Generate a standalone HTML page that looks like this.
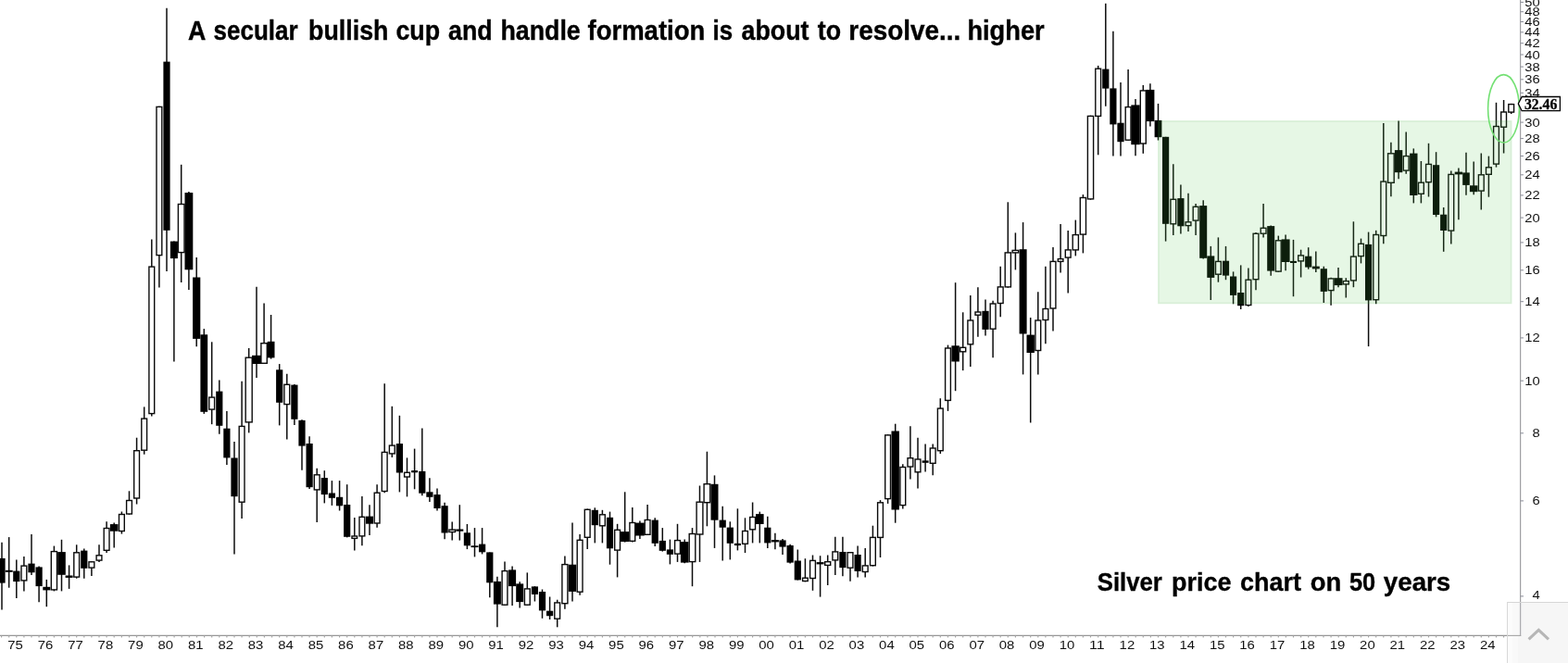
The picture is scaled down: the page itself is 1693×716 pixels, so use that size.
<!DOCTYPE html>
<html lang="en"><head><meta charset="utf-8"><title>Silver price chart on 50 years</title>
<style>
html,body{margin:0;padding:0;background:#fff;}
body{width:1693px;height:716px;overflow:hidden;position:relative;font-family:"Liberation Sans",Arial,sans-serif;}
svg{position:absolute;left:0;top:0;display:block}
.c line{stroke:#0c0c0c;stroke-width:1.5}
.c rect.f{fill:#000}
.c rect.h{fill:#fff;stroke:#0a0a0a;stroke-width:1.4}
.ax text{font-family:"Liberation Sans",Arial,sans-serif;font-size:13.4px;fill:#111}
.t{font-family:"Liberation Sans",Arial,sans-serif;font-weight:bold;font-size:27.4px;fill:#000;stroke:#000;stroke-width:0.35px}
</style></head><body>
<svg width="1693" height="716" viewBox="0 0 1693 716">
<rect x="0" y="0" width="1693" height="716" fill="#fff"/>

<g class="c">
<line x1="2.0" y1="585.8" x2="2.0" y2="658.5"/>
<line x1="9.7" y1="580.1" x2="9.7" y2="634.7"/>
<line x1="17.8" y1="604.6" x2="17.8" y2="645.9"/>
<line x1="25.9" y1="600.9" x2="25.9" y2="638.4"/>
<line x1="34.0" y1="577.1" x2="34.0" y2="620.9"/>
<line x1="42.1" y1="611.6" x2="42.1" y2="650.2"/>
<line x1="50.3" y1="625.9" x2="50.3" y2="655.2"/>
<line x1="58.4" y1="589.6" x2="58.4" y2="638.4"/>
<line x1="66.5" y1="582.8" x2="66.5" y2="638.4"/>
<line x1="74.6" y1="610.4" x2="74.6" y2="635.9"/>
<line x1="82.7" y1="588.3" x2="82.7" y2="624.7"/>
<line x1="90.8" y1="592.6" x2="90.8" y2="624.7"/>
<line x1="98.9" y1="605.9" x2="98.9" y2="622.1"/>
<line x1="107.0" y1="588.3" x2="107.0" y2="607.1"/>
<line x1="115.1" y1="563.3" x2="115.1" y2="597.1"/>
<line x1="123.2" y1="564.5" x2="123.2" y2="591.6"/>
<line x1="131.4" y1="552.5" x2="131.4" y2="576.6"/>
<line x1="139.5" y1="530.3" x2="139.5" y2="555.8"/>
<line x1="147.6" y1="472.7" x2="147.6" y2="544.5"/>
<line x1="155.7" y1="439.4" x2="155.7" y2="490.7"/>
<line x1="163.8" y1="258.6" x2="163.8" y2="449.4"/>
<line x1="171.9" y1="114.7" x2="171.9" y2="310.5"/>
<line x1="180.0" y1="8.8" x2="180.0" y2="292.9"/>
<line x1="187.9" y1="260.6" x2="187.9" y2="390.6"/>
<line x1="195.7" y1="177.8" x2="195.7" y2="305.0"/>
<line x1="203.9" y1="207.0" x2="203.9" y2="313.0"/>
<line x1="212.2" y1="277.9" x2="212.2" y2="374.3"/>
<line x1="220.3" y1="355.1" x2="220.3" y2="446.9"/>
<line x1="228.7" y1="369.3" x2="228.7" y2="458.2"/>
<line x1="236.8" y1="410.6" x2="236.8" y2="468.7"/>
<line x1="244.9" y1="443.9" x2="244.9" y2="502.0"/>
<line x1="253.0" y1="477.0" x2="253.0" y2="598.4"/>
<line x1="261.1" y1="411.8" x2="261.1" y2="560.0"/>
<line x1="268.7" y1="376.0" x2="268.7" y2="467.4"/>
<line x1="277.0" y1="309.7" x2="277.0" y2="408.1"/>
<line x1="285.1" y1="327.5" x2="285.1" y2="393.1"/>
<line x1="292.6" y1="340.0" x2="292.6" y2="387.6"/>
<line x1="301.7" y1="393.1" x2="301.7" y2="459.4"/>
<line x1="309.8" y1="403.8" x2="309.8" y2="474.5"/>
<line x1="317.9" y1="415.1" x2="317.9" y2="458.9"/>
<line x1="326.0" y1="453.2" x2="326.0" y2="507.8"/>
<line x1="334.1" y1="471.2" x2="334.1" y2="527.9"/>
<line x1="342.2" y1="505.7" x2="342.2" y2="564.1"/>
<line x1="350.3" y1="508.2" x2="350.3" y2="543.4"/>
<line x1="358.4" y1="519.1" x2="358.4" y2="545.9"/>
<line x1="366.6" y1="519.1" x2="366.6" y2="551.5"/>
<line x1="374.7" y1="523.2" x2="374.7" y2="580.4"/>
<line x1="382.8" y1="559.1" x2="382.8" y2="594.6"/>
<line x1="390.9" y1="536.1" x2="390.9" y2="589.2"/>
<line x1="399.0" y1="545.2" x2="399.0" y2="577.9"/>
<line x1="407.1" y1="523.2" x2="407.1" y2="569.7"/>
<line x1="415.2" y1="414.3" x2="415.2" y2="532.3"/>
<line x1="423.3" y1="438.8" x2="423.3" y2="493.9"/>
<line x1="431.4" y1="448.8" x2="431.4" y2="531.4"/>
<line x1="439.5" y1="494.4" x2="439.5" y2="536.4"/>
<line x1="447.6" y1="484.6" x2="447.6" y2="528.3"/>
<line x1="455.8" y1="462.6" x2="455.8" y2="535.2"/>
<line x1="463.9" y1="516.3" x2="463.9" y2="542.1"/>
<line x1="472.0" y1="527.4" x2="472.0" y2="551.5"/>
<line x1="480.1" y1="542.7" x2="480.1" y2="582.3"/>
<line x1="488.2" y1="563.5" x2="488.2" y2="583.6"/>
<line x1="496.3" y1="545.2" x2="496.3" y2="583.6"/>
<line x1="504.4" y1="566.0" x2="504.4" y2="593.1"/>
<line x1="512.5" y1="570.1" x2="512.5" y2="601.4"/>
<line x1="520.6" y1="570.1" x2="520.6" y2="598.4"/>
<line x1="528.8" y1="596.4" x2="528.8" y2="645.2"/>
<line x1="536.9" y1="622.7" x2="536.9" y2="677.3"/>
<line x1="545.0" y1="606.4" x2="545.0" y2="654.0"/>
<line x1="553.1" y1="611.4" x2="553.1" y2="654.0"/>
<line x1="561.2" y1="628.2" x2="561.2" y2="656.5"/>
<line x1="569.3" y1="618.4" x2="569.3" y2="654.0"/>
<line x1="577.4" y1="633.2" x2="577.4" y2="649.5"/>
<line x1="585.5" y1="636.5" x2="585.5" y2="667.8"/>
<line x1="593.6" y1="644.5" x2="593.6" y2="669.0"/>
<line x1="601.7" y1="647.7" x2="601.7" y2="677.3"/>
<line x1="609.9" y1="600.6" x2="609.9" y2="657.7"/>
<line x1="618.0" y1="564.6" x2="618.0" y2="649.5"/>
<line x1="626.1" y1="577.1" x2="626.1" y2="642.7"/>
<line x1="634.2" y1="549.6" x2="634.2" y2="593.1"/>
<line x1="642.3" y1="548.3" x2="642.3" y2="586.4"/>
<line x1="650.4" y1="550.8" x2="650.4" y2="586.4"/>
<line x1="658.5" y1="552.6" x2="658.5" y2="609.7"/>
<line x1="666.6" y1="565.8" x2="666.6" y2="623.4"/>
<line x1="674.7" y1="531.3" x2="674.7" y2="585.6"/>
<line x1="682.8" y1="548.0" x2="682.8" y2="585.6"/>
<line x1="690.9" y1="562.6" x2="690.9" y2="582.1"/>
<line x1="699.1" y1="545.0" x2="699.1" y2="578.1"/>
<line x1="707.2" y1="559.3" x2="707.2" y2="590.1"/>
<line x1="715.3" y1="570.1" x2="715.3" y2="595.6"/>
<line x1="723.4" y1="582.6" x2="723.4" y2="609.4"/>
<line x1="731.5" y1="565.8" x2="731.5" y2="606.9"/>
<line x1="739.2" y1="582.6" x2="739.2" y2="608.2"/>
<line x1="747.5" y1="570.1" x2="747.5" y2="633.2"/>
<line x1="755.5" y1="524.5" x2="755.5" y2="606.9"/>
<line x1="763.4" y1="487.7" x2="763.4" y2="568.3"/>
<line x1="771.5" y1="513.4" x2="771.5" y2="591.9"/>
<line x1="780.2" y1="546.8" x2="780.2" y2="605.6"/>
<line x1="788.3" y1="563.3" x2="788.3" y2="604.4"/>
<line x1="796.4" y1="549.3" x2="796.4" y2="594.4"/>
<line x1="804.5" y1="559.3" x2="804.5" y2="597.1"/>
<line x1="812.6" y1="542.5" x2="812.6" y2="586.4"/>
<line x1="820.3" y1="552.6" x2="820.3" y2="586.4"/>
<line x1="828.8" y1="557.7" x2="828.8" y2="592.0"/>
<line x1="836.9" y1="575.7" x2="836.9" y2="593.2"/>
<line x1="845.0" y1="581.9" x2="845.0" y2="599.0"/>
<line x1="853.1" y1="587.7" x2="853.1" y2="608.5"/>
<line x1="861.3" y1="593.5" x2="861.3" y2="626.5"/>
<line x1="869.4" y1="603.2" x2="869.4" y2="628.3"/>
<line x1="877.5" y1="599.5" x2="877.5" y2="637.8"/>
<line x1="885.6" y1="600.2" x2="885.6" y2="644.6"/>
<line x1="893.7" y1="599.5" x2="893.7" y2="632.0"/>
<line x1="901.8" y1="579.7" x2="901.8" y2="621.0"/>
<line x1="909.9" y1="579.7" x2="909.9" y2="622.3"/>
<line x1="918.0" y1="596.0" x2="918.0" y2="627.8"/>
<line x1="926.1" y1="589.5" x2="926.1" y2="623.5"/>
<line x1="934.2" y1="592.0" x2="934.2" y2="623.5"/>
<line x1="942.4" y1="567.7" x2="942.4" y2="611.5"/>
<line x1="950.5" y1="540.1" x2="950.5" y2="602.0"/>
<line x1="958.6" y1="469.2" x2="958.6" y2="543.9"/>
<line x1="966.7" y1="457.7" x2="966.7" y2="564.7"/>
<line x1="974.8" y1="501.3" x2="974.8" y2="549.6"/>
<line x1="982.9" y1="460.2" x2="982.9" y2="517.6"/>
<line x1="991.0" y1="472.7" x2="991.0" y2="527.6"/>
<line x1="999.1" y1="479.5" x2="999.1" y2="509.6"/>
<line x1="1007.2" y1="479.5" x2="1007.2" y2="513.3"/>
<line x1="1015.3" y1="430.2" x2="1015.3" y2="490.0"/>
<line x1="1023.5" y1="372.6" x2="1023.5" y2="443.9"/>
<line x1="1031.6" y1="305.2" x2="1031.6" y2="422.2"/>
<line x1="1039.7" y1="337.3" x2="1039.7" y2="400.1"/>
<line x1="1047.8" y1="319.0" x2="1047.8" y2="395.9"/>
<line x1="1055.9" y1="310.2" x2="1055.9" y2="363.8"/>
<line x1="1064.0" y1="323.5" x2="1064.0" y2="362.6"/>
<line x1="1072.1" y1="324.8" x2="1072.1" y2="386.3"/>
<line x1="1080.2" y1="287.7" x2="1080.2" y2="342.3"/>
<line x1="1088.3" y1="218.3" x2="1088.3" y2="310.7"/>
<line x1="1096.4" y1="251.4" x2="1096.4" y2="291.4"/>
<line x1="1104.6" y1="240.1" x2="1104.6" y2="404.4"/>
<line x1="1112.7" y1="343.0" x2="1112.7" y2="456.5"/>
<line x1="1120.8" y1="315.2" x2="1120.8" y2="404.4"/>
<line x1="1128.9" y1="287.7" x2="1128.9" y2="371.3"/>
<line x1="1137.0" y1="266.9" x2="1137.0" y2="357.5"/>
<line x1="1145.1" y1="241.9" x2="1145.1" y2="294.5"/>
<line x1="1153.2" y1="248.9" x2="1153.2" y2="316.5"/>
<line x1="1161.3" y1="237.6" x2="1161.3" y2="276.4"/>
<line x1="1169.4" y1="210.1" x2="1169.4" y2="273.4"/>
<line x1="1177.5" y1="124.7" x2="1177.5" y2="215.7"/>
<line x1="1185.7" y1="70.9" x2="1185.7" y2="167.3"/>
<line x1="1193.8" y1="3.8" x2="1193.8" y2="114.7"/>
<line x1="1201.9" y1="33.8" x2="1201.9" y2="168.5"/>
<line x1="1210.0" y1="88.9" x2="1210.0" y2="168.5"/>
<line x1="1218.1" y1="75.1" x2="1218.1" y2="152.0"/>
<line x1="1226.0" y1="106.9" x2="1226.0" y2="168.3"/>
<line x1="1234.3" y1="91.9" x2="1234.3" y2="165.8"/>
<line x1="1241.9" y1="90.2" x2="1241.9" y2="136.5"/>
<line x1="1250.5" y1="111.9" x2="1250.5" y2="151.5"/>
<line x1="1258.6" y1="147.8" x2="1258.6" y2="260.6"/>
<line x1="1266.8" y1="177.3" x2="1266.8" y2="253.9"/>
<line x1="1274.9" y1="199.5" x2="1274.9" y2="252.6"/>
<line x1="1283.0" y1="208.8" x2="1283.0" y2="250.1"/>
<line x1="1291.1" y1="220.1" x2="1291.1" y2="253.9"/>
<line x1="1299.2" y1="216.3" x2="1299.2" y2="279.4"/>
<line x1="1307.3" y1="265.9" x2="1307.3" y2="324.0"/>
<line x1="1315.4" y1="256.4" x2="1315.4" y2="304.7"/>
<line x1="1323.5" y1="265.9" x2="1323.5" y2="302.2"/>
<line x1="1331.6" y1="293.4" x2="1331.6" y2="328.3"/>
<line x1="1339.7" y1="286.4" x2="1339.7" y2="334.0"/>
<line x1="1347.9" y1="289.4" x2="1347.9" y2="331.0"/>
<line x1="1356.0" y1="250.9" x2="1356.0" y2="313.2"/>
<line x1="1364.1" y1="220.1" x2="1364.1" y2="256.4"/>
<line x1="1372.2" y1="243.4" x2="1372.2" y2="297.7"/>
<line x1="1380.3" y1="254.6" x2="1380.3" y2="293.9"/>
<line x1="1388.1" y1="253.4" x2="1388.1" y2="292.2"/>
<line x1="1396.5" y1="258.9" x2="1396.5" y2="320.2"/>
<line x1="1404.6" y1="269.7" x2="1404.6" y2="299.5"/>
<line x1="1412.7" y1="267.2" x2="1412.7" y2="290.7"/>
<line x1="1420.8" y1="271.4" x2="1420.8" y2="293.9"/>
<line x1="1429.3" y1="287.7" x2="1429.3" y2="327.0"/>
<line x1="1437.1" y1="299.7" x2="1437.1" y2="329.7"/>
<line x1="1445.0" y1="288.9" x2="1445.0" y2="310.2"/>
<line x1="1453.3" y1="300.2" x2="1453.3" y2="321.5"/>
<line x1="1461.4" y1="239.3" x2="1461.4" y2="310.2"/>
<line x1="1469.5" y1="257.6" x2="1469.5" y2="284.4"/>
<line x1="1477.6" y1="250.6" x2="1477.6" y2="374.1"/>
<line x1="1485.7" y1="248.8" x2="1485.7" y2="328.2"/>
<line x1="1493.8" y1="133.1" x2="1493.8" y2="263.3"/>
<line x1="1501.9" y1="153.8" x2="1501.9" y2="212.2"/>
<line x1="1510.1" y1="130.6" x2="1510.1" y2="193.2"/>
<line x1="1518.2" y1="142.6" x2="1518.2" y2="187.7"/>
<line x1="1526.3" y1="160.4" x2="1526.3" y2="219.4"/>
<line x1="1534.4" y1="174.0" x2="1534.4" y2="219.4"/>
<line x1="1542.5" y1="154.8" x2="1542.5" y2="212.5"/>
<line x1="1550.6" y1="164.2" x2="1550.6" y2="234.3"/>
<line x1="1558.7" y1="224.0" x2="1558.7" y2="271.8"/>
<line x1="1566.8" y1="184.4" x2="1566.8" y2="263.6"/>
<line x1="1574.9" y1="181.5" x2="1574.9" y2="237.2"/>
<line x1="1583.0" y1="164.8" x2="1583.0" y2="210.8"/>
<line x1="1591.2" y1="174.5" x2="1591.2" y2="210.2"/>
<line x1="1599.3" y1="165.5" x2="1599.3" y2="226.5"/>
<line x1="1607.4" y1="168.6" x2="1607.4" y2="212.7"/>
<line x1="1615.5" y1="110.8" x2="1615.5" y2="180.6"/>
<line x1="1623.6" y1="108.0" x2="1623.6" y2="165.5"/>
<line x1="1631.7" y1="111.9" x2="1631.7" y2="123.0"/>
<rect class="f" x="-1.6" y="602.9" width="7.2" height="26.7"/>
<rect class="f" x="5.7" y="615.8" width="8.0" height="2.0"/>
<rect class="f" x="14.2" y="616.6" width="7.2" height="11.5"/>
<rect class="h" x="23.0" y="611.1" width="5.8" height="15.8"/>
<rect class="f" x="30.4" y="608.6" width="7.2" height="9.7"/>
<rect class="f" x="38.5" y="612.4" width="7.2" height="20.7"/>
<rect class="f" x="46.3" y="633.8" width="8.0" height="3.6"/>
<rect class="h" x="55.3" y="595.6" width="6.2" height="41.3"/>
<rect class="f" x="62.2" y="596.1" width="8.6" height="24.7"/>
<rect class="f" x="70.6" y="621.5" width="8.0" height="2.4"/>
<rect class="h" x="79.8" y="596.8" width="5.8" height="26.3"/>
<rect class="f" x="87.2" y="594.6" width="7.2" height="19.2"/>
<rect class="h" x="96.0" y="606.8" width="5.8" height="6.3"/>
<rect class="h" x="104.1" y="599.8" width="5.8" height="5.3"/>
<rect class="h" x="112.2" y="570.5" width="5.8" height="23.8"/>
<rect class="f" x="118.9" y="566.1" width="8.6" height="7.6"/>
<rect class="h" x="128.5" y="555.5" width="5.8" height="18.0"/>
<rect class="h" x="136.6" y="540.5" width="5.8" height="14.5"/>
<rect class="h" x="144.7" y="486.7" width="5.8" height="51.3"/>
<rect class="h" x="152.8" y="452.1" width="5.8" height="34.1"/>
<rect class="h" x="160.9" y="288.1" width="5.8" height="158.5"/>
<rect class="h" x="169.0" y="115.4" width="5.8" height="160.2"/>
<rect class="f" x="176.4" y="66.6" width="7.2" height="182.2"/>
<rect class="f" x="183.9" y="260.6" width="8.0" height="18.5"/>
<rect class="h" x="192.4" y="220.5" width="6.6" height="52.1"/>
<rect class="f" x="199.5" y="208.1" width="8.8" height="83.2"/>
<rect class="f" x="208.1" y="299.5" width="8.2" height="66.4"/>
<rect class="f" x="216.4" y="361.3" width="7.8" height="83.5"/>
<rect class="h" x="225.8" y="429.1" width="5.8" height="13.0"/>
<rect class="f" x="233.2" y="422.6" width="7.2" height="37.2"/>
<rect class="f" x="241.3" y="462.7" width="7.2" height="31.7"/>
<rect class="f" x="249.4" y="494.5" width="7.2" height="41.7"/>
<rect class="h" x="258.2" y="460.4" width="5.8" height="81.8"/>
<rect class="h" x="265.2" y="386.2" width="7.0" height="69.7"/>
<rect class="f" x="272.0" y="383.8" width="10.0" height="9.2"/>
<rect class="h" x="281.9" y="370.7" width="6.4" height="21.6"/>
<rect class="f" x="288.7" y="368.8" width="7.8" height="17.6"/>
<rect class="f" x="298.1" y="399.3" width="7.2" height="35.5"/>
<rect class="h" x="306.9" y="415.3" width="5.8" height="21.3"/>
<rect class="f" x="314.3" y="415.6" width="7.2" height="37.2"/>
<rect class="f" x="322.4" y="453.9" width="7.2" height="27.7"/>
<rect class="f" x="330.5" y="479.0" width="7.2" height="47.2"/>
<rect class="h" x="339.3" y="512.8" width="5.8" height="16.1"/>
<rect class="f" x="346.7" y="516.1" width="7.2" height="18.0"/>
<rect class="f" x="354.8" y="532.5" width="7.2" height="5.3"/>
<rect class="f" x="363.0" y="536.8" width="7.2" height="9.5"/>
<rect class="f" x="371.1" y="545.0" width="7.2" height="34.8"/>
<rect class="h" x="380.0" y="579.0" width="5.6" height="2.4"/>
<rect class="h" x="388.0" y="558.3" width="5.8" height="20.6"/>
<rect class="f" x="395.0" y="557.6" width="8.0" height="8.1"/>
<rect class="h" x="404.2" y="532.2" width="5.8" height="32.8"/>
<rect class="h" x="412.3" y="488.4" width="5.8" height="42.1"/>
<rect class="h" x="420.4" y="481.1" width="5.8" height="8.8"/>
<rect class="f" x="427.8" y="479.1" width="7.2" height="31.4"/>
<rect class="h" x="436.6" y="510.3" width="5.8" height="4.7"/>
<rect class="f" x="444.1" y="508.1" width="7.0" height="2.2"/>
<rect class="f" x="452.2" y="508.9" width="7.2" height="23.8"/>
<rect class="f" x="460.3" y="531.3" width="7.2" height="5.5"/>
<rect class="f" x="468.4" y="534.1" width="7.2" height="14.9"/>
<rect class="f" x="476.5" y="546.2" width="7.2" height="29.3"/>
<rect class="h" x="484.9" y="572.1" width="6.6" height="2.4"/>
<rect class="f" x="492.3" y="571.5" width="8.0" height="2.2"/>
<rect class="f" x="500.8" y="575.3" width="7.2" height="14.0"/>
<rect class="f" x="508.5" y="589.3" width="8.0" height="1.8"/>
<rect class="f" x="517.0" y="587.6" width="7.2" height="8.7"/>
<rect class="f" x="525.2" y="596.4" width="7.2" height="32.9"/>
<rect class="f" x="532.9" y="627.9" width="8.0" height="24.7"/>
<rect class="h" x="542.1" y="616.6" width="5.8" height="36.6"/>
<rect class="f" x="549.1" y="615.4" width="8.0" height="17.7"/>
<rect class="f" x="557.2" y="630.4" width="8.0" height="19.7"/>
<rect class="h" x="566.4" y="635.9" width="5.8" height="17.3"/>
<rect class="f" x="573.8" y="633.4" width="7.2" height="8.5"/>
<rect class="f" x="581.9" y="639.0" width="7.2" height="20.4"/>
<rect class="f" x="590.0" y="659.7" width="7.2" height="5.5"/>
<rect class="h" x="598.8" y="650.9" width="5.8" height="17.3"/>
<rect class="h" x="606.9" y="609.6" width="6.0" height="42.1"/>
<rect class="f" x="613.8" y="609.7" width="8.4" height="29.2"/>
<rect class="h" x="623.2" y="583.3" width="5.8" height="55.9"/>
<rect class="h" x="631.3" y="550.3" width="5.8" height="30.0"/>
<rect class="f" x="638.7" y="550.8" width="7.2" height="16.4"/>
<rect class="h" x="647.5" y="555.8" width="5.8" height="12.0"/>
<rect class="f" x="654.9" y="558.8" width="7.2" height="33.5"/>
<rect class="h" x="663.7" y="572.3" width="5.8" height="21.8"/>
<rect class="f" x="670.0" y="574.1" width="9.4" height="10.9"/>
<rect class="h" x="679.9" y="564.5" width="5.8" height="19.8"/>
<rect class="f" x="686.0" y="564.6" width="9.8" height="13.9"/>
<rect class="h" x="696.2" y="561.5" width="5.8" height="15.8"/>
<rect class="f" x="703.6" y="561.6" width="7.2" height="25.2"/>
<rect class="f" x="711.7" y="583.9" width="7.2" height="10.9"/>
<rect class="f" x="719.8" y="593.4" width="7.2" height="5.4"/>
<rect class="h" x="728.6" y="583.6" width="5.8" height="14.5"/>
<rect class="f" x="734.9" y="585.1" width="8.6" height="22.5"/>
<rect class="h" x="744.2" y="576.5" width="6.6" height="30.1"/>
<rect class="h" x="752.1" y="542.2" width="6.8" height="34.8"/>
<rect class="h" x="760.1" y="522.7" width="6.6" height="20.0"/>
<rect class="f" x="767.5" y="522.8" width="8.0" height="38.9"/>
<rect class="f" x="776.6" y="561.6" width="7.2" height="8.1"/>
<rect class="f" x="784.7" y="569.6" width="7.2" height="17.2"/>
<rect class="f" x="792.9" y="586.8" width="7.0" height="2.3"/>
<rect class="h" x="801.6" y="573.5" width="5.8" height="13.8"/>
<rect class="h" x="809.7" y="558.5" width="5.8" height="13.3"/>
<rect class="f" x="816.0" y="555.1" width="8.6" height="10.9"/>
<rect class="f" x="825.2" y="569.7" width="7.2" height="16.7"/>
<rect class="f" x="832.9" y="583.1" width="8.0" height="2.3"/>
<rect class="f" x="841.4" y="583.4" width="7.2" height="7.2"/>
<rect class="f" x="849.5" y="589.0" width="7.2" height="18.6"/>
<rect class="f" x="857.7" y="605.5" width="7.2" height="20.9"/>
<rect class="h" x="866.6" y="624.2" width="5.6" height="3.3"/>
<rect class="h" x="874.6" y="605.4" width="5.8" height="19.1"/>
<rect class="f" x="881.6" y="607.1" width="8.0" height="2.3"/>
<rect class="h" x="890.7" y="606.7" width="6.0" height="3.7"/>
<rect class="h" x="898.9" y="595.9" width="5.8" height="9.0"/>
<rect class="f" x="906.3" y="596.0" width="7.2" height="17.1"/>
<rect class="h" x="915.1" y="596.7" width="5.8" height="16.5"/>
<rect class="f" x="922.5" y="599.0" width="7.2" height="17.9"/>
<rect class="h" x="931.3" y="610.9" width="5.8" height="6.6"/>
<rect class="h" x="939.5" y="580.4" width="5.8" height="30.3"/>
<rect class="h" x="947.6" y="542.8" width="5.8" height="37.6"/>
<rect class="h" x="955.7" y="469.9" width="5.8" height="68.7"/>
<rect class="f" x="962.5" y="465.5" width="8.4" height="85.0"/>
<rect class="h" x="971.9" y="504.5" width="5.8" height="41.1"/>
<rect class="h" x="980.0" y="494.7" width="5.8" height="9.3"/>
<rect class="h" x="988.1" y="496.0" width="5.8" height="13.8"/>
<rect class="f" x="995.6" y="497.4" width="7.0" height="2.4"/>
<rect class="h" x="1004.3" y="484.0" width="5.8" height="16.3"/>
<rect class="h" x="1012.4" y="441.1" width="5.8" height="45.6"/>
<rect class="h" x="1020.6" y="376.0" width="5.8" height="56.4"/>
<rect class="f" x="1027.4" y="373.3" width="8.4" height="17.2"/>
<rect class="h" x="1036.7" y="375.3" width="6.0" height="4.5"/>
<rect class="h" x="1044.9" y="346.0" width="5.8" height="25.8"/>
<rect class="h" x="1053.0" y="337.0" width="5.8" height="3.2"/>
<rect class="f" x="1060.4" y="335.8" width="7.2" height="20.1"/>
<rect class="h" x="1069.2" y="328.0" width="5.8" height="27.2"/>
<rect class="h" x="1077.3" y="309.9" width="5.8" height="17.6"/>
<rect class="h" x="1085.2" y="272.9" width="6.2" height="37.0"/>
<rect class="h" x="1093.1" y="270.4" width="6.6" height="2.5"/>
<rect class="f" x="1100.6" y="269.2" width="8.0" height="91.3"/>
<rect class="f" x="1108.5" y="361.6" width="8.4" height="19.4"/>
<rect class="h" x="1117.9" y="346.0" width="5.8" height="32.5"/>
<rect class="h" x="1126.0" y="333.5" width="5.8" height="12.0"/>
<rect class="h" x="1134.1" y="282.4" width="5.8" height="50.6"/>
<rect class="h" x="1142.3" y="279.6" width="5.6" height="2.8"/>
<rect class="h" x="1150.3" y="269.9" width="5.8" height="8.2"/>
<rect class="h" x="1158.2" y="253.6" width="6.2" height="16.3"/>
<rect class="h" x="1166.3" y="213.5" width="6.2" height="39.6"/>
<rect class="h" x="1174.4" y="125.4" width="6.2" height="89.5"/>
<rect class="h" x="1182.8" y="74.2" width="5.8" height="51.2"/>
<rect class="f" x="1190.2" y="74.6" width="7.2" height="21.0"/>
<rect class="f" x="1198.3" y="95.4" width="7.2" height="39.0"/>
<rect class="f" x="1206.4" y="132.7" width="7.2" height="20.5"/>
<rect class="h" x="1215.2" y="115.6" width="5.8" height="35.6"/>
<rect class="f" x="1221.3" y="113.4" width="9.4" height="42.8"/>
<rect class="h" x="1231.3" y="97.9" width="6.0" height="57.1"/>
<rect class="f" x="1237.4" y="96.9" width="9.0" height="34.2"/>
<rect class="f" x="1246.6" y="129.9" width="7.8" height="18.3"/>
<rect class="f" x="1255.0" y="147.8" width="7.2" height="94.0"/>
<rect class="h" x="1263.9" y="215.3" width="5.8" height="26.5"/>
<rect class="f" x="1271.3" y="214.1" width="7.2" height="30.2"/>
<rect class="h" x="1280.1" y="239.8" width="5.8" height="3.8"/>
<rect class="h" x="1288.2" y="223.3" width="5.8" height="14.8"/>
<rect class="f" x="1295.2" y="222.1" width="8.0" height="56.7"/>
<rect class="f" x="1303.3" y="276.4" width="8.0" height="23.5"/>
<rect class="h" x="1312.5" y="282.4" width="5.8" height="13.8"/>
<rect class="f" x="1319.9" y="281.7" width="7.2" height="15.9"/>
<rect class="f" x="1328.0" y="298.5" width="7.2" height="20.4"/>
<rect class="f" x="1336.1" y="316.0" width="7.2" height="14.2"/>
<rect class="h" x="1345.0" y="302.2" width="5.8" height="27.3"/>
<rect class="h" x="1353.1" y="252.3" width="5.8" height="49.4"/>
<rect class="h" x="1361.2" y="246.3" width="5.8" height="5.9"/>
<rect class="f" x="1368.2" y="244.1" width="8.0" height="48.5"/>
<rect class="h" x="1377.4" y="259.8" width="5.8" height="33.3"/>
<rect class="f" x="1383.6" y="258.4" width="9.0" height="24.6"/>
<rect class="f" x="1393.0" y="281.9" width="7.0" height="2.1"/>
<rect class="h" x="1401.7" y="275.9" width="5.8" height="6.0"/>
<rect class="f" x="1409.1" y="276.7" width="7.2" height="11.9"/>
<rect class="f" x="1416.8" y="287.6" width="8.0" height="2.8"/>
<rect class="f" x="1425.7" y="290.2" width="7.2" height="24.7"/>
<rect class="h" x="1434.2" y="300.9" width="5.8" height="12.7"/>
<rect class="f" x="1440.5" y="300.2" width="9.0" height="7.9"/>
<rect class="h" x="1450.3" y="303.6" width="6.0" height="3.3"/>
<rect class="h" x="1458.5" y="277.1" width="5.8" height="25.8"/>
<rect class="h" x="1466.6" y="263.3" width="5.8" height="13.3"/>
<rect class="f" x="1474.0" y="263.9" width="7.2" height="60.5"/>
<rect class="h" x="1482.8" y="253.5" width="5.8" height="70.2"/>
<rect class="h" x="1490.9" y="196.1" width="5.8" height="58.4"/>
<rect class="h" x="1498.6" y="165.8" width="6.6" height="31.5"/>
<rect class="f" x="1505.9" y="162.1" width="8.4" height="24.1"/>
<rect class="h" x="1515.3" y="168.6" width="5.8" height="15.5"/>
<rect class="f" x="1522.1" y="165.6" width="8.4" height="45.4"/>
<rect class="h" x="1531.5" y="197.2" width="5.8" height="12.1"/>
<rect class="h" x="1539.6" y="177.4" width="5.8" height="19.3"/>
<rect class="f" x="1547.0" y="178.2" width="7.2" height="53.8"/>
<rect class="f" x="1555.1" y="231.7" width="7.2" height="17.3"/>
<rect class="h" x="1563.9" y="188.4" width="5.8" height="60.7"/>
<rect class="f" x="1570.7" y="185.6" width="8.4" height="2.8"/>
<rect class="f" x="1579.2" y="186.4" width="7.6" height="13.5"/>
<rect class="f" x="1586.9" y="200.3" width="8.6" height="6.9"/>
<rect class="h" x="1596.4" y="188.8" width="5.8" height="17.3"/>
<rect class="h" x="1604.5" y="180.8" width="5.8" height="7.5"/>
<rect class="h" x="1612.6" y="136.5" width="5.8" height="40.6"/>
<rect class="h" x="1620.7" y="121.0" width="5.8" height="16.2"/>
<rect class="h" x="1628.8" y="112.6" width="5.8" height="8.5"/>
</g>
<rect x="1250" y="130" width="382.6" height="198.3" fill="#58ca52" fill-opacity="0.15"/>
<rect x="1251.2" y="131.2" width="380.2" height="196" fill="none" stroke="#2f7a2f" stroke-opacity="0.07" stroke-width="1.4"/>
<ellipse cx="1623.5" cy="117.3" rx="16.9" ry="36.7" fill="none" stroke="#74e074" stroke-width="1.6"/>
<g class="ax">
<line x1="1641.7" y1="0" x2="1641.7" y2="687" stroke="#8a8a8e" stroke-width="1"/>
<line x1="0" y1="686.4" x2="1642" y2="686.4" stroke="#979797" stroke-width="1.1"/>
<path d="M1.6 686.4v2 M9.7 686.4v2 M17.8 686.4v2 M25.9 686.4v2 M34.0 686.4v2 M42.1 686.4v2 M50.3 686.4v2 M58.4 686.4v2 M66.5 686.4v2 M74.6 686.4v2 M82.7 686.4v2 M90.8 686.4v2 M98.9 686.4v2 M107.0 686.4v2 M115.1 686.4v2 M123.2 686.4v2 M131.4 686.4v2 M139.5 686.4v2 M147.6 686.4v2 M155.7 686.4v2 M163.8 686.4v2 M171.9 686.4v2 M180.0 686.4v2 M188.1 686.4v2 M196.2 686.4v2 M204.3 686.4v2 M212.5 686.4v2 M220.6 686.4v2 M228.7 686.4v2 M236.8 686.4v2 M244.9 686.4v2 M253.0 686.4v2 M261.1 686.4v2 M269.2 686.4v2 M277.3 686.4v2 M285.4 686.4v2 M293.6 686.4v2 M301.7 686.4v2 M309.8 686.4v2 M317.9 686.4v2 M326.0 686.4v2 M334.1 686.4v2 M342.2 686.4v2 M350.3 686.4v2 M358.4 686.4v2 M366.6 686.4v2 M374.7 686.4v2 M382.8 686.4v2 M390.9 686.4v2 M399.0 686.4v2 M407.1 686.4v2 M415.2 686.4v2 M423.3 686.4v2 M431.4 686.4v2 M439.5 686.4v2 M447.6 686.4v2 M455.8 686.4v2 M463.9 686.4v2 M472.0 686.4v2 M480.1 686.4v2 M488.2 686.4v2 M496.3 686.4v2 M504.4 686.4v2 M512.5 686.4v2 M520.6 686.4v2 M528.8 686.4v2 M536.9 686.4v2 M545.0 686.4v2 M553.1 686.4v2 M561.2 686.4v2 M569.3 686.4v2 M577.4 686.4v2 M585.5 686.4v2 M593.6 686.4v2 M601.7 686.4v2 M609.9 686.4v2 M618.0 686.4v2 M626.1 686.4v2 M634.2 686.4v2 M642.3 686.4v2 M650.4 686.4v2 M658.5 686.4v2 M666.6 686.4v2 M674.7 686.4v2 M682.8 686.4v2 M690.9 686.4v2 M699.1 686.4v2 M707.2 686.4v2 M715.3 686.4v2 M723.4 686.4v2 M731.5 686.4v2 M739.6 686.4v2 M747.7 686.4v2 M755.8 686.4v2 M763.9 686.4v2 M772.0 686.4v2 M780.2 686.4v2 M788.3 686.4v2 M796.4 686.4v2 M804.5 686.4v2 M812.6 686.4v2 M820.7 686.4v2 M828.8 686.4v2 M836.9 686.4v2 M845.0 686.4v2 M853.1 686.4v2 M861.3 686.4v2 M869.4 686.4v2 M877.5 686.4v2 M885.6 686.4v2 M893.7 686.4v2 M901.8 686.4v2 M909.9 686.4v2 M918.0 686.4v2 M926.1 686.4v2 M934.2 686.4v2 M942.4 686.4v2 M950.5 686.4v2 M958.6 686.4v2 M966.7 686.4v2 M974.8 686.4v2 M982.9 686.4v2 M991.0 686.4v2 M999.1 686.4v2 M1007.2 686.4v2 M1015.3 686.4v2 M1023.5 686.4v2 M1031.6 686.4v2 M1039.7 686.4v2 M1047.8 686.4v2 M1055.9 686.4v2 M1064.0 686.4v2 M1072.1 686.4v2 M1080.2 686.4v2 M1088.3 686.4v2 M1096.4 686.4v2 M1104.6 686.4v2 M1112.7 686.4v2 M1120.8 686.4v2 M1128.9 686.4v2 M1137.0 686.4v2 M1145.1 686.4v2 M1153.2 686.4v2 M1161.3 686.4v2 M1169.4 686.4v2 M1177.5 686.4v2 M1185.7 686.4v2 M1193.8 686.4v2 M1201.9 686.4v2 M1210.0 686.4v2 M1218.1 686.4v2 M1226.2 686.4v2 M1234.3 686.4v2 M1242.4 686.4v2 M1250.5 686.4v2 M1258.6 686.4v2 M1266.8 686.4v2 M1274.9 686.4v2 M1283.0 686.4v2 M1291.1 686.4v2 M1299.2 686.4v2 M1307.3 686.4v2 M1315.4 686.4v2 M1323.5 686.4v2 M1331.6 686.4v2 M1339.7 686.4v2 M1347.9 686.4v2 M1356.0 686.4v2 M1364.1 686.4v2 M1372.2 686.4v2 M1380.3 686.4v2 M1388.4 686.4v2 M1396.5 686.4v2 M1404.6 686.4v2 M1412.7 686.4v2 M1420.8 686.4v2 M1429.0 686.4v2 M1437.1 686.4v2 M1445.2 686.4v2 M1453.3 686.4v2 M1461.4 686.4v2 M1469.5 686.4v2 M1477.6 686.4v2 M1485.7 686.4v2 M1493.8 686.4v2 M1501.9 686.4v2 M1510.1 686.4v2 M1518.2 686.4v2 M1526.3 686.4v2 M1534.4 686.4v2 M1542.5 686.4v2 M1550.6 686.4v2 M1558.7 686.4v2 M1566.8 686.4v2 M1574.9 686.4v2 M1583.0 686.4v2 M1591.2 686.4v2 M1599.3 686.4v2 M1607.4 686.4v2 M1615.5 686.4v2 M1623.6 686.4v2 M1631.7 686.4v2 M1639.8 686.4v2" stroke="#a8a8a8" stroke-width="1.2" fill="none"/>
<text x="16.6" y="701.3" text-anchor="middle" textLength="16.6" lengthAdjust="spacingAndGlyphs">75</text>
<text x="49.0" y="701.3" text-anchor="middle" textLength="16.6" lengthAdjust="spacingAndGlyphs">76</text>
<text x="81.5" y="701.3" text-anchor="middle" textLength="16.6" lengthAdjust="spacingAndGlyphs">77</text>
<text x="113.9" y="701.3" text-anchor="middle" textLength="16.6" lengthAdjust="spacingAndGlyphs">78</text>
<text x="146.4" y="701.3" text-anchor="middle" textLength="16.6" lengthAdjust="spacingAndGlyphs">79</text>
<text x="178.8" y="701.3" text-anchor="middle" textLength="16.6" lengthAdjust="spacingAndGlyphs">80</text>
<text x="211.2" y="701.3" text-anchor="middle" textLength="16.6" lengthAdjust="spacingAndGlyphs">81</text>
<text x="243.7" y="701.3" text-anchor="middle" textLength="16.6" lengthAdjust="spacingAndGlyphs">82</text>
<text x="276.1" y="701.3" text-anchor="middle" textLength="16.6" lengthAdjust="spacingAndGlyphs">83</text>
<text x="308.6" y="701.3" text-anchor="middle" textLength="16.6" lengthAdjust="spacingAndGlyphs">84</text>
<text x="341.0" y="701.3" text-anchor="middle" textLength="16.6" lengthAdjust="spacingAndGlyphs">85</text>
<text x="373.4" y="701.3" text-anchor="middle" textLength="16.6" lengthAdjust="spacingAndGlyphs">86</text>
<text x="405.9" y="701.3" text-anchor="middle" textLength="16.6" lengthAdjust="spacingAndGlyphs">87</text>
<text x="438.3" y="701.3" text-anchor="middle" textLength="16.6" lengthAdjust="spacingAndGlyphs">88</text>
<text x="470.8" y="701.3" text-anchor="middle" textLength="16.6" lengthAdjust="spacingAndGlyphs">89</text>
<text x="503.2" y="701.3" text-anchor="middle" textLength="16.6" lengthAdjust="spacingAndGlyphs">90</text>
<text x="535.6" y="701.3" text-anchor="middle" textLength="16.6" lengthAdjust="spacingAndGlyphs">91</text>
<text x="568.1" y="701.3" text-anchor="middle" textLength="16.6" lengthAdjust="spacingAndGlyphs">92</text>
<text x="600.5" y="701.3" text-anchor="middle" textLength="16.6" lengthAdjust="spacingAndGlyphs">93</text>
<text x="633.0" y="701.3" text-anchor="middle" textLength="16.6" lengthAdjust="spacingAndGlyphs">94</text>
<text x="665.4" y="701.3" text-anchor="middle" textLength="16.6" lengthAdjust="spacingAndGlyphs">95</text>
<text x="697.8" y="701.3" text-anchor="middle" textLength="16.6" lengthAdjust="spacingAndGlyphs">96</text>
<text x="730.3" y="701.3" text-anchor="middle" textLength="16.6" lengthAdjust="spacingAndGlyphs">97</text>
<text x="762.7" y="701.3" text-anchor="middle" textLength="16.6" lengthAdjust="spacingAndGlyphs">98</text>
<text x="795.2" y="701.3" text-anchor="middle" textLength="16.6" lengthAdjust="spacingAndGlyphs">99</text>
<text x="827.6" y="701.3" text-anchor="middle" textLength="16.6" lengthAdjust="spacingAndGlyphs">00</text>
<text x="860.0" y="701.3" text-anchor="middle" textLength="16.6" lengthAdjust="spacingAndGlyphs">01</text>
<text x="892.5" y="701.3" text-anchor="middle" textLength="16.6" lengthAdjust="spacingAndGlyphs">02</text>
<text x="924.9" y="701.3" text-anchor="middle" textLength="16.6" lengthAdjust="spacingAndGlyphs">03</text>
<text x="957.4" y="701.3" text-anchor="middle" textLength="16.6" lengthAdjust="spacingAndGlyphs">04</text>
<text x="989.8" y="701.3" text-anchor="middle" textLength="16.6" lengthAdjust="spacingAndGlyphs">05</text>
<text x="1022.2" y="701.3" text-anchor="middle" textLength="16.6" lengthAdjust="spacingAndGlyphs">06</text>
<text x="1054.7" y="701.3" text-anchor="middle" textLength="16.6" lengthAdjust="spacingAndGlyphs">07</text>
<text x="1087.1" y="701.3" text-anchor="middle" textLength="16.6" lengthAdjust="spacingAndGlyphs">08</text>
<text x="1119.6" y="701.3" text-anchor="middle" textLength="16.6" lengthAdjust="spacingAndGlyphs">09</text>
<text x="1152.0" y="701.3" text-anchor="middle" textLength="16.6" lengthAdjust="spacingAndGlyphs">10</text>
<text x="1184.4" y="701.3" text-anchor="middle" textLength="16.6" lengthAdjust="spacingAndGlyphs">11</text>
<text x="1216.9" y="701.3" text-anchor="middle" textLength="16.6" lengthAdjust="spacingAndGlyphs">12</text>
<text x="1249.3" y="701.3" text-anchor="middle" textLength="16.6" lengthAdjust="spacingAndGlyphs">13</text>
<text x="1281.8" y="701.3" text-anchor="middle" textLength="16.6" lengthAdjust="spacingAndGlyphs">14</text>
<text x="1314.2" y="701.3" text-anchor="middle" textLength="16.6" lengthAdjust="spacingAndGlyphs">15</text>
<text x="1346.6" y="701.3" text-anchor="middle" textLength="16.6" lengthAdjust="spacingAndGlyphs">16</text>
<text x="1379.1" y="701.3" text-anchor="middle" textLength="16.6" lengthAdjust="spacingAndGlyphs">17</text>
<text x="1411.5" y="701.3" text-anchor="middle" textLength="16.6" lengthAdjust="spacingAndGlyphs">18</text>
<text x="1444.0" y="701.3" text-anchor="middle" textLength="16.6" lengthAdjust="spacingAndGlyphs">19</text>
<text x="1476.4" y="701.3" text-anchor="middle" textLength="16.6" lengthAdjust="spacingAndGlyphs">20</text>
<text x="1508.8" y="701.3" text-anchor="middle" textLength="16.6" lengthAdjust="spacingAndGlyphs">21</text>
<text x="1541.3" y="701.3" text-anchor="middle" textLength="16.6" lengthAdjust="spacingAndGlyphs">22</text>
<text x="1573.7" y="701.3" text-anchor="middle" textLength="16.6" lengthAdjust="spacingAndGlyphs">23</text>
<text x="1606.2" y="701.3" text-anchor="middle" textLength="16.6" lengthAdjust="spacingAndGlyphs">24</text>
<line x1="1641.6" y1="2.4" x2="1645" y2="2.4" stroke="#8a8d99" stroke-width="1"/>
<text x="1662.6" y="6.8" text-anchor="end" textLength="16.4" lengthAdjust="spacingAndGlyphs">50</text>
<line x1="1641.6" y1="12.7" x2="1645" y2="12.7" stroke="#8a8d99" stroke-width="1"/>
<text x="1662.6" y="17.2" text-anchor="end" textLength="16.4" lengthAdjust="spacingAndGlyphs">48</text>
<line x1="1641.6" y1="23.5" x2="1645" y2="23.5" stroke="#8a8d99" stroke-width="1"/>
<text x="1662.6" y="28.0" text-anchor="end" textLength="16.4" lengthAdjust="spacingAndGlyphs">46</text>
<line x1="1641.6" y1="34.8" x2="1645" y2="34.8" stroke="#8a8d99" stroke-width="1"/>
<text x="1662.6" y="39.3" text-anchor="end" textLength="16.4" lengthAdjust="spacingAndGlyphs">44</text>
<line x1="1641.6" y1="46.7" x2="1645" y2="46.7" stroke="#8a8d99" stroke-width="1"/>
<text x="1662.6" y="51.1" text-anchor="end" textLength="16.4" lengthAdjust="spacingAndGlyphs">42</text>
<line x1="1641.6" y1="59.0" x2="1645" y2="59.0" stroke="#8a8d99" stroke-width="1"/>
<text x="1662.6" y="63.5" text-anchor="end" textLength="16.4" lengthAdjust="spacingAndGlyphs">40</text>
<line x1="1641.6" y1="72.1" x2="1645" y2="72.1" stroke="#8a8d99" stroke-width="1"/>
<text x="1662.6" y="76.5" text-anchor="end" textLength="16.4" lengthAdjust="spacingAndGlyphs">38</text>
<line x1="1641.6" y1="85.8" x2="1645" y2="85.8" stroke="#8a8d99" stroke-width="1"/>
<text x="1662.6" y="90.3" text-anchor="end" textLength="16.4" lengthAdjust="spacingAndGlyphs">36</text>
<line x1="1641.6" y1="100.3" x2="1645" y2="100.3" stroke="#8a8d99" stroke-width="1"/>
<text x="1662.6" y="104.8" text-anchor="end" textLength="16.4" lengthAdjust="spacingAndGlyphs">34</text>
<line x1="1641.6" y1="132.1" x2="1645" y2="132.1" stroke="#8a8d99" stroke-width="1"/>
<text x="1662.6" y="136.6" text-anchor="end" textLength="16.4" lengthAdjust="spacingAndGlyphs">30</text>
<line x1="1641.6" y1="149.6" x2="1645" y2="149.6" stroke="#8a8d99" stroke-width="1"/>
<text x="1662.6" y="154.1" text-anchor="end" textLength="16.4" lengthAdjust="spacingAndGlyphs">28</text>
<line x1="1641.6" y1="168.5" x2="1645" y2="168.5" stroke="#8a8d99" stroke-width="1"/>
<text x="1662.6" y="172.9" text-anchor="end" textLength="16.4" lengthAdjust="spacingAndGlyphs">26</text>
<line x1="1641.6" y1="188.8" x2="1645" y2="188.8" stroke="#8a8d99" stroke-width="1"/>
<text x="1662.6" y="193.2" text-anchor="end" textLength="16.4" lengthAdjust="spacingAndGlyphs">24</text>
<line x1="1641.6" y1="210.9" x2="1645" y2="210.9" stroke="#8a8d99" stroke-width="1"/>
<text x="1662.6" y="215.3" text-anchor="end" textLength="16.4" lengthAdjust="spacingAndGlyphs">22</text>
<line x1="1641.6" y1="235.1" x2="1645" y2="235.1" stroke="#8a8d99" stroke-width="1"/>
<text x="1662.6" y="239.6" text-anchor="end" textLength="16.4" lengthAdjust="spacingAndGlyphs">20</text>
<line x1="1641.6" y1="261.9" x2="1645" y2="261.9" stroke="#8a8d99" stroke-width="1"/>
<text x="1662.6" y="266.3" text-anchor="end" textLength="16.4" lengthAdjust="spacingAndGlyphs">18</text>
<line x1="1641.6" y1="291.8" x2="1645" y2="291.8" stroke="#8a8d99" stroke-width="1"/>
<text x="1662.6" y="296.2" text-anchor="end" textLength="16.4" lengthAdjust="spacingAndGlyphs">16</text>
<line x1="1641.6" y1="325.7" x2="1645" y2="325.7" stroke="#8a8d99" stroke-width="1"/>
<text x="1662.6" y="330.1" text-anchor="end" textLength="16.4" lengthAdjust="spacingAndGlyphs">14</text>
<line x1="1641.6" y1="364.9" x2="1645" y2="364.9" stroke="#8a8d99" stroke-width="1"/>
<text x="1662.6" y="369.3" text-anchor="end" textLength="16.4" lengthAdjust="spacingAndGlyphs">12</text>
<line x1="1641.6" y1="411.2" x2="1645" y2="411.2" stroke="#8a8d99" stroke-width="1"/>
<text x="1662.6" y="415.6" text-anchor="end" textLength="16.4" lengthAdjust="spacingAndGlyphs">10</text>
<line x1="1641.6" y1="467.8" x2="1645" y2="467.8" stroke="#8a8d99" stroke-width="1"/>
<text x="1662.6" y="472.3" text-anchor="end" textLength="8.2" lengthAdjust="spacingAndGlyphs">8</text>
<line x1="1641.6" y1="540.9" x2="1645" y2="540.9" stroke="#8a8d99" stroke-width="1"/>
<text x="1662.6" y="545.4" text-anchor="end" textLength="8.2" lengthAdjust="spacingAndGlyphs">6</text>
<line x1="1641.6" y1="643.9" x2="1645" y2="643.9" stroke="#8a8d99" stroke-width="1"/>
<text x="1662.6" y="647.3" text-anchor="end" textLength="8.2" lengthAdjust="spacingAndGlyphs">4</text>
</g>
<path d="M1639.3 112.0 L1643.2 104.5 H1684.4 V119.7 H1643.2 Z" fill="#fff" stroke="#000" stroke-width="1.3"/>
<text x="1663.6" y="117.6" text-anchor="middle" textLength="35.4" lengthAdjust="spacingAndGlyphs" style="font-family:'Liberation Serif',serif;font-weight:bold;font-size:17px;fill:#000;stroke:#000;stroke-width:0.3px">32.46</text>
<text class="t" style="font-size:26.8px" transform="translate(203.2 43.1) scale(1 1.084)" y="0"><tspan x="-0.3">A</tspan> <tspan x="27.4" textLength="91.0" lengthAdjust="spacingAndGlyphs">secular</tspan> <tspan x="129.9">bullish</tspan> <tspan x="224.2">cup</tspan> <tspan x="280.9">and</tspan> <tspan x="337.2">handle</tspan> <tspan x="431.3" textLength="126.8" lengthAdjust="spacingAndGlyphs">formation</tspan> <tspan x="566.4" textLength="21.6" lengthAdjust="spacingAndGlyphs">is</tspan> <tspan x="597.3">about</tspan> <tspan x="679.6">to</tspan> <tspan x="713.1" textLength="121.0" lengthAdjust="spacingAndGlyphs">resolve...</tspan> <tspan x="841.2" textLength="83.3" lengthAdjust="spacingAndGlyphs">higher</tspan></text>
<text class="t" style="font-size:27px" transform="translate(1184.8 637.5) scale(1 1.035)" y="0"><tspan x="0.0" textLength="70.1" lengthAdjust="spacingAndGlyphs">Silver</tspan> <tspan x="80.2">price</tspan> <tspan x="154.1">chart</tspan> <tspan x="229.9" textLength="33.6" lengthAdjust="spacingAndGlyphs">on</tspan> <tspan x="272.1" textLength="28.2" lengthAdjust="spacingAndGlyphs">50</tspan> <tspan x="309.0" textLength="72.5" lengthAdjust="spacingAndGlyphs">years</tspan></text>
<rect x="1627.6" y="650.5" width="70" height="70" fill="#f6f6f6" stroke="#d6d6d6" stroke-width="1"/>
<rect x="1628.2" y="651.1" width="5" height="66" fill="#fcfcfc"/>
<rect x="1633.2" y="651.1" width="6" height="66" fill="#f9f9f9"/>
<line x1="1641.7" y1="651" x2="1641.7" y2="687" stroke="#9b9b9f" stroke-width="1"/>
<line x1="1628" y1="686.4" x2="1642.2" y2="686.4" stroke="#a5a5a5" stroke-width="1.1"/>
<path d="M1650.6 690.3 L1661.3 680.3 L1672 690.3" fill="none" stroke="#b6b6b6" stroke-width="3.1"/>
</svg></body></html>
